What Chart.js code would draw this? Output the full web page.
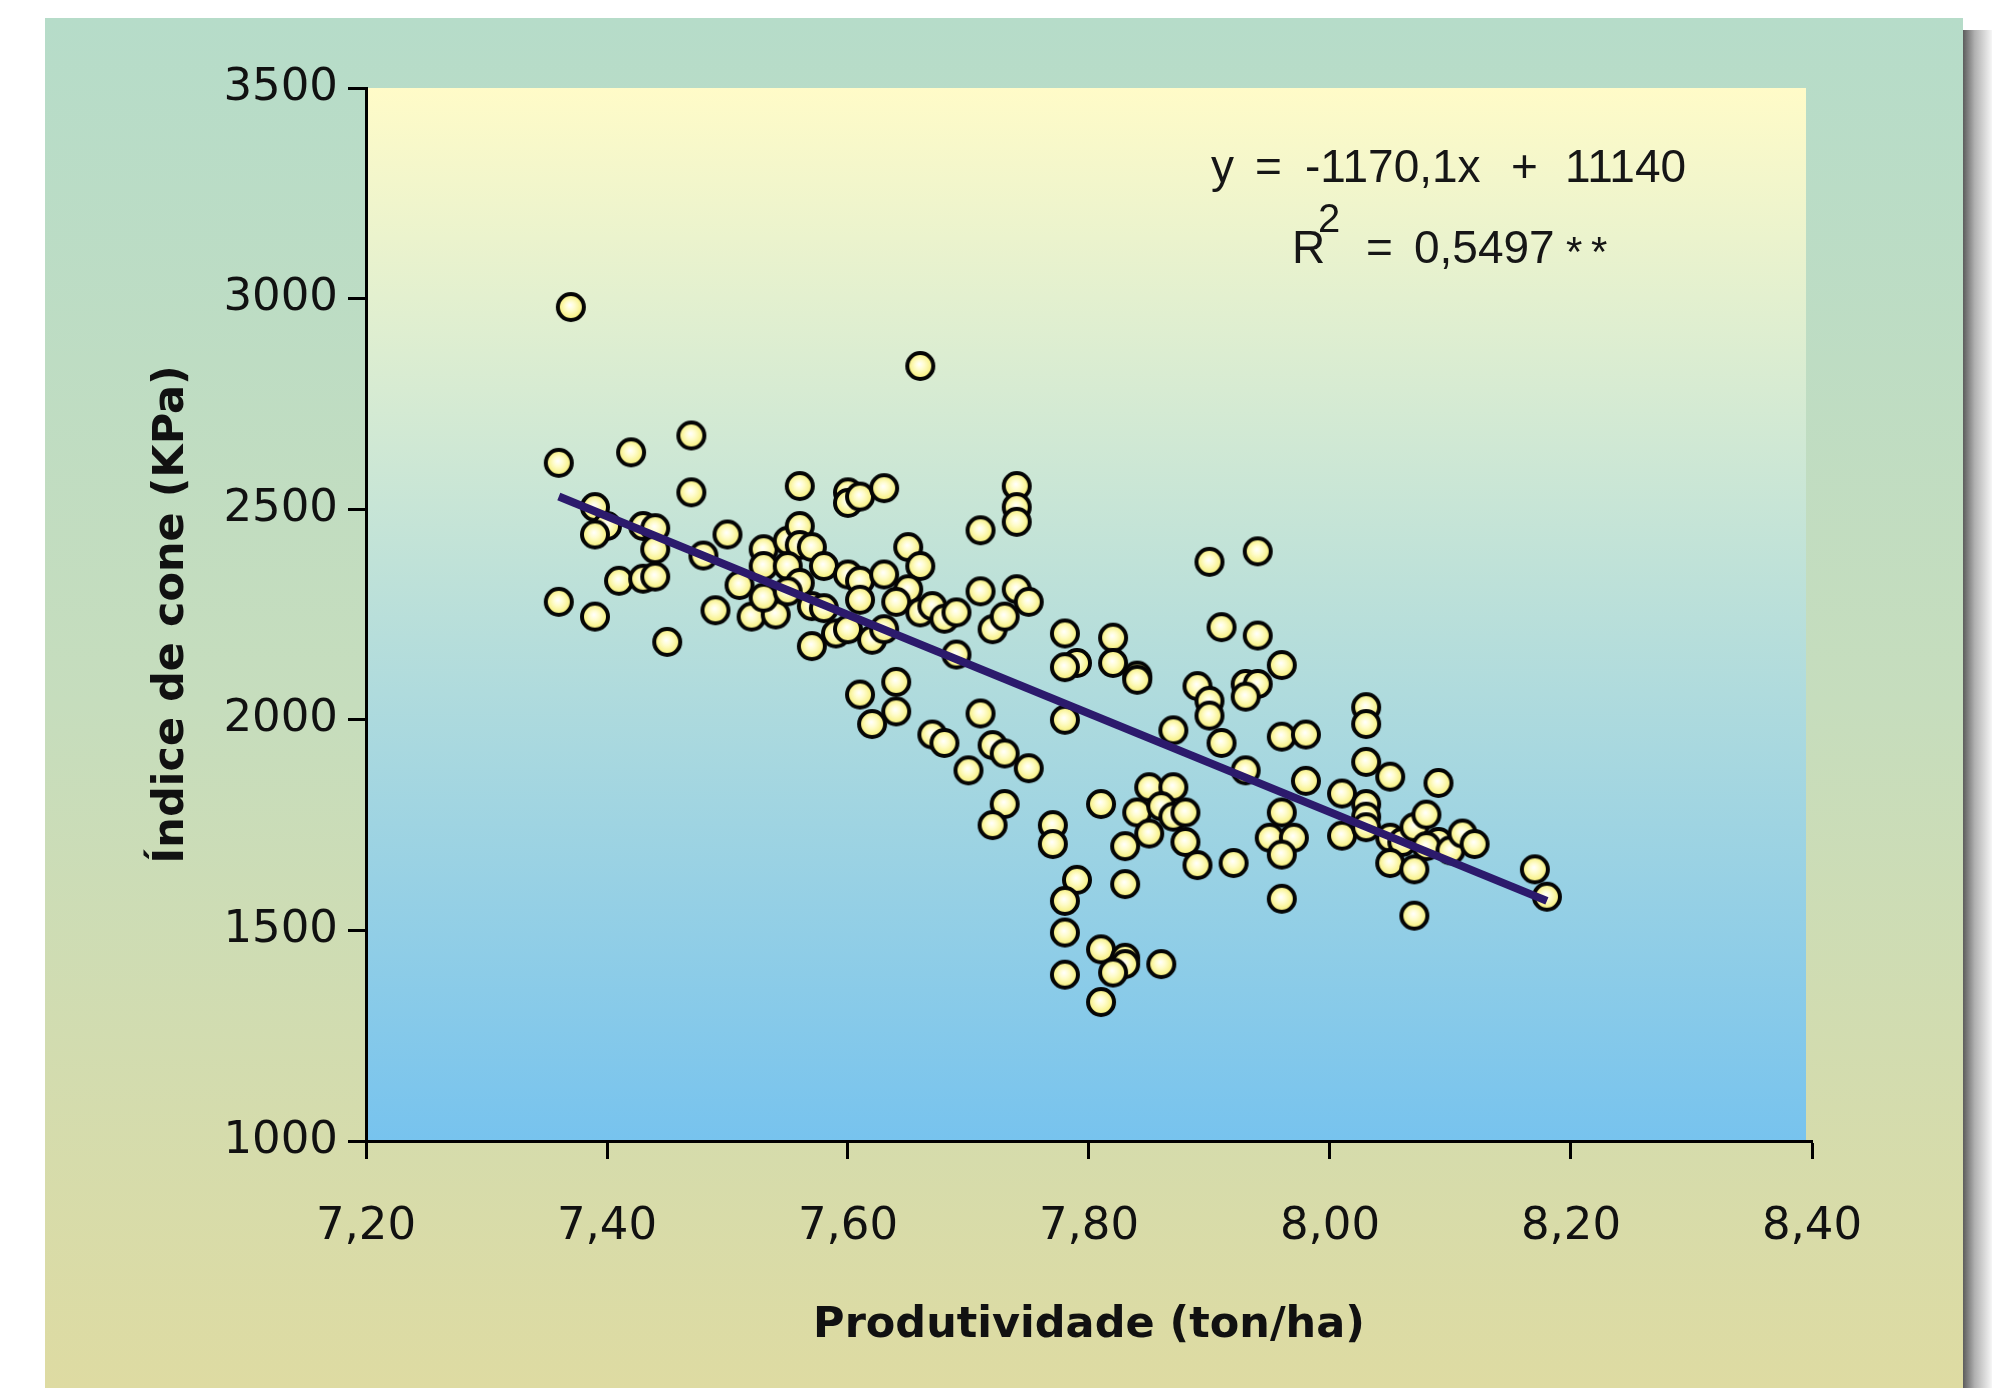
<!DOCTYPE html>
<html>
<head>
<meta charset="utf-8">
<script src="https://cdn.jsdelivr.net/npm/chart.js@4.4.0/dist/chart.umd.min.js"></script>
<style>
  html, body { margin: 0; padding: 0; background: #fff; }
  canvas { display: block; }
</style>
</head>
<body>
<canvas id="chart" width="1996" height="1388"></canvas>
<script>
// axis ticks
const xTicks = [7.2, 7.4, 7.6, 7.8, 8.0, 8.2, 8.4];
const yTicks = [1000, 1500, 2000, 2500, 3000, 3500];

// Produtividade (ton/ha) x Índice de cone (KPa)
const prodX = [
  7.37, 7.66, 7.47, 7.36, 7.42, 7.47, 7.56, 7.60, 7.60, 7.61,
  7.63, 7.39, 7.40, 7.39, 7.43, 7.44, 7.44, 7.41, 7.43, 7.44,
  7.36, 7.39, 7.45, 7.48, 7.50, 7.49, 7.51, 7.52, 7.54, 7.53,
  7.53, 7.53, 7.55, 7.56, 7.56, 7.57, 7.58, 7.55, 7.56, 7.55,
  7.57, 7.58, 7.60, 7.61, 7.61, 7.63, 7.59, 7.60, 7.62, 7.63,
  7.57, 7.65, 7.66, 7.65, 7.64, 7.66, 7.67, 7.68, 7.69, 7.71,
  7.71, 7.72, 7.69, 7.61, 7.64, 7.64, 7.62, 7.71, 7.67, 7.68,
  7.72, 7.73, 7.70, 7.73, 7.72, 7.74, 7.74, 7.74, 7.90, 7.94,
  7.74, 7.75, 7.73, 7.78, 7.79, 7.78, 7.82, 7.82, 7.84, 7.84,
  7.91, 7.94, 7.96, 7.89, 7.90, 7.90, 7.93, 7.94, 7.93, 7.78,
  7.87, 7.96, 7.98, 7.75, 7.77, 7.77, 7.81, 7.79, 7.78, 7.83,
  7.83, 7.78, 7.78, 7.81, 7.83, 7.83, 7.82, 7.86, 7.81, 7.91,
  7.93, 7.98, 8.01, 8.01, 7.85, 7.87, 7.84, 7.86, 7.87, 7.88,
  7.85, 7.88, 7.89, 7.92, 7.96, 7.95, 7.97, 7.96, 7.96, 8.03,
  8.03, 8.03, 8.05, 8.09, 8.03, 8.03, 8.03, 8.05, 8.06, 8.07,
  8.08, 8.09, 8.08, 8.10, 8.11, 8.12, 8.05, 8.07, 8.07, 8.17,
  8.18
];
const coneY = [
  2980, 2840, 2675, 2610, 2635, 2540, 2555, 2540, 2515, 2530,
  2550, 2505, 2460, 2440, 2460, 2455, 2405, 2330, 2335, 2340,
  2280, 2245, 2185, 2390, 2440, 2260, 2320, 2245, 2250, 2405,
  2365, 2290, 2425, 2460, 2415, 2410, 2365, 2365, 2325, 2305,
  2270, 2265, 2345, 2330, 2285, 2345, 2205, 2215, 2190, 2215,
  2175, 2410, 2365, 2310, 2280, 2255, 2270, 2240, 2255, 2450,
  2305, 2215, 2155, 2060, 2090, 2020, 1990, 2015, 1965, 1945,
  1940, 1920, 1880, 1800, 1750, 2555, 2505, 2470, 2375, 2400,
  2310, 2280, 2245, 2205, 2135, 2125, 2195, 2135, 2105, 2095,
  2220, 2200, 2130, 2080, 2045, 2010, 2085, 2085, 2055, 2000,
  1975, 1960, 1965, 1885, 1750, 1705, 1800, 1620, 1570, 1700,
  1610, 1495, 1395, 1455, 1435, 1420, 1400, 1420, 1330, 1945,
  1880, 1855, 1825, 1725, 1840, 1840, 1780, 1795, 1770, 1780,
  1730, 1710, 1655, 1660, 1780, 1720, 1720, 1680, 1575, 2030,
  1990, 1900, 1865, 1850, 1800, 1770, 1745, 1720, 1710, 1745,
  1775, 1710, 1700, 1690, 1730, 1705, 1660, 1645, 1535, 1645,
  1580
];

// regression line ends
const trendX = [7.36, 8.18];
const trendY = [2530, 1570];

// equation pieces, spaced out like the original
const eqLine1 = ["y", "=", "-1170,1x", "+", "11140"];
const eqLine2 = ["R", "2", "=", "0,5497", "*", "*"];

// yellow ball marker
function makeMarker() {
  const c = document.createElement("canvas");
  c.width = 34;
  c.height = 34;
  const g = c.getContext("2d");
  const grad = g.createRadialGradient(16, 15, 0, 17, 17, 13);
  grad.addColorStop(0, "#ffffff");
  grad.addColorStop(0.35, "#fffdd0");
  grad.addColorStop(1, "#f6ee70");
  g.beginPath();
  g.arc(17, 17, 13, 0, Math.PI * 2);
  g.fillStyle = grad;
  g.fill();
  g.lineWidth = 4;
  g.strokeStyle = "#050505";
  g.stroke();
  return c;
}

const backdrop = {
  id: "backdrop",
  beforeDraw(chart) {
    const { ctx, chartArea: a, width, height } = chart;
    ctx.save();
    ctx.fillStyle = "#ffffff";
    ctx.fillRect(0, 0, width, height);

    // drop shadow on the right
    const sh = ctx.createLinearGradient(1963, 0, 1992, 0);
    sh.addColorStop(0, "#5c5c5c");
    sh.addColorStop(0.4, "#b0b0b0");
    sh.addColorStop(1, "#f6f6f6");
    ctx.fillStyle = sh;
    ctx.fillRect(1963, 30, 29, height - 30);

    // panel
    const pg = ctx.createLinearGradient(0, 18, 0, height);
    pg.addColorStop(0, "#b6dcc9");
    pg.addColorStop(0.5, "#c6ddbd");
    pg.addColorStop(1, "#dedba2");
    ctx.fillStyle = pg;
    ctx.fillRect(45, 18, 1918, height - 18);

    // plot area
    const ag = ctx.createLinearGradient(0, a.top, 0, a.bottom);
    ag.addColorStop(0, "#fffbc8");
    ag.addColorStop(0.45, "#c0e2d8");
    ag.addColorStop(1, "#77c3ee");
    ctx.fillStyle = ag;
    ctx.fillRect(a.left, a.top, a.right - a.left - 6, a.bottom - a.top);
    ctx.restore();
  },
  afterDraw(chart) {
    const { ctx } = chart;
    const fam = '"Liberation Sans", Arial, sans-serif';
    ctx.save();
    ctx.fillStyle = "#161616";
    ctx.textAlign = "left";
    ctx.textBaseline = "alphabetic";
    ctx.font = "46px " + fam;
    const x1 = [1211, 1255, 1305, 1511, 1565];
    eqLine1.forEach((t, i) => ctx.fillText(t, x1[i], 182));
    ctx.fillText(eqLine2[0], 1292, 263);
    ctx.fillText(eqLine2[2], 1366, 263);
    ctx.fillText(eqLine2[3], 1414, 263);
    ctx.font = "40px " + fam;
    ctx.fillText(eqLine2[1], 1318, 232);
    ctx.font = "42px " + fam;
    ctx.fillText(eqLine2[4], 1566, 266);
    ctx.fillText(eqLine2[5], 1591, 266);
    ctx.restore();
  }
};

const tickFont = { family: '"DejaVu Sans", sans-serif', size: 45 };
const titleFont = { family: '"DejaVu Sans", sans-serif', size: 43, weight: "bold" };

new Chart(document.getElementById("chart"), {
  type: "scatter",
  data: {
    datasets: [
      {
        type: "line",
        data: trendX.map((x, i) => ({ x, y: trendY[i] })),
        borderColor: "#2c1a6c",
        borderWidth: 8,
        pointRadius: 0,
        fill: false,
        order: 0,
      },
      {
        data: prodX.map((x, i) => ({ x, y: coneY[i] })),
        pointStyle: makeMarker(),
        pointRadius: 15,
        order: 1,
      },
    ],
  },
  options: {
    responsive: false,
    animation: false,
    events: [],
    layout: { padding: { left: 0, right: 184, top: 88, bottom: 0 } },
    plugins: { legend: { display: false }, tooltip: { enabled: false } },
    scales: {
      x: {
        type: "linear",
        min: 7.2,
        max: 8.4,
        afterFit: (s) => { s.height = 247; },
        afterBuildTicks: (s) => { s.ticks = xTicks.map((v) => ({ value: v })); },
        grid: { drawOnChartArea: false, tickLength: 18, tickWidth: 3, tickColor: "#000" },
        border: { display: true, color: "#000", width: 3 },
        ticks: {
          font: tickFont,
          color: "#111",
          padding: 41,
          maxRotation: 0,
          callback: (v) => Number(v).toFixed(2).replace(".", ","),
        },
        title: {
          display: true,
          text: "Produtividade (ton/ha)",
          font: titleFont,
          color: "#111",
          padding: { top: 0, bottom: 36 },
        },
      },
      y: {
        type: "linear",
        min: 1000,
        max: 3500,
        afterFit: (s) => { s.width = 366; },
        afterBuildTicks: (s) => { s.ticks = yTicks.map((v) => ({ value: v })); },
        grid: { drawOnChartArea: false, tickLength: 18, tickWidth: 3, tickColor: "#000" },
        border: { display: true, color: "#000", width: 3 },
        ticks: {
          font: tickFont,
          color: "#111",
          padding: 10,
          callback: (v) => String(v),
        },
        title: {
          display: true,
          text: "Índice de cone (KPa)",
          font: titleFont,
          color: "#111",
          padding: { top: 146, bottom: 0 },
        },
      },
    },
  },
  plugins: [backdrop],
});
</script>
</body>
</html>
